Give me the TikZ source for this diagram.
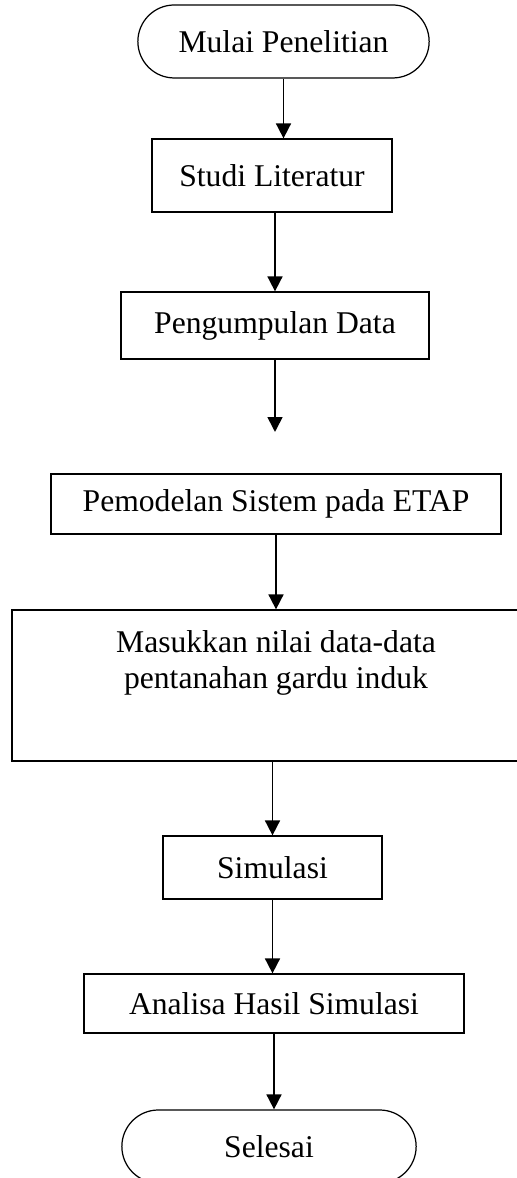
\documentclass[tikz,border=0pt]{standalone}
\usepackage{fontspec}
\setmainfont{Liberation Serif}
\usepackage{tikz}
\usetikzlibrary{shapes.misc,arrows.meta,positioning,calc}
\tikzset{
  blk/.style  ={rectangle, draw=black, line width=0.7pt, fill=white,
                align=center, inner sep=2pt,
                font=\fontsize{18pt}{20.5pt}\selectfont},
  term/.style ={rounded rectangle, draw=black, line width=0.7pt, fill=white,
                minimum width=6.1cm, minimum height=1.46cm, align=center,
                font=\fontsize{18pt}{20.5pt}\selectfont},
  ar/.style   ={-{Triangle[length=8.5pt,width=8.5pt]}, line width=1pt, draw=black}
}
\begin{document}
\begin{tikzpicture}
\useasboundingbox (0,0) rectangle (10.34,23.56);
\clip (0,0) rectangle (10.34,23.56);
% langkah-langkah
\node[term, minimum width=6.06cm] (mulai) at (5.67,22.73) {Mulai Penelitian};
\node[blk, minimum width=4.8cm, minimum height=1.46cm] (studi) at (5.44,20.05)
  {Studi Literatur};
\node[blk, minimum width=6.16cm, minimum height=1.34cm] (kumpul) at (5.50,17.05)
  {Pengumpulan Data};
\coordinate (ujung) at (5.50,14.92);
\node[blk, minimum width=9.0cm, minimum height=1.2cm] (model) at (5.52,13.48)
  {Pemodelan Sistem pada ETAP};
\node[blk, minimum width=10.56cm, minimum height=3.02cm,
      label={[anchor=north, yshift=-0.3cm, align=center,
              font=\fontsize{18pt}{20.5pt}\selectfont]north:Masukkan nilai data-data\\pentanahan gardu induk}]
  (masuk) at (5.52,9.85) {};
\node[blk, minimum width=4.38cm, minimum height=1.26cm] (simul) at (5.45,6.21)
  {Simulasi};
\node[blk, minimum width=7.6cm, minimum height=1.18cm] (analisa) at (5.48,3.49)
  {Analisa Hasil Simulasi};
\node[term, minimum width=6.12cm] (selesai) at (5.38,0.63) {Selesai};
% panah
\draw[ar] (mulai.south) -- (mulai.south |- studi.north);
\draw[ar] (kumpul.north |- studi.south) -- (kumpul.north);
\draw[ar] (kumpul.south) -- (ujung);
\draw[ar] (model.south) -- (model.south |- masuk.north);
\draw[ar] (simul.north |- masuk.south) -- (simul.north);
\draw[ar] (simul.south) -- (simul.south |- analisa.north);
\draw[ar] (analisa.south) -- (analisa.south |- selesai.north);
\end{tikzpicture}
\end{document}
